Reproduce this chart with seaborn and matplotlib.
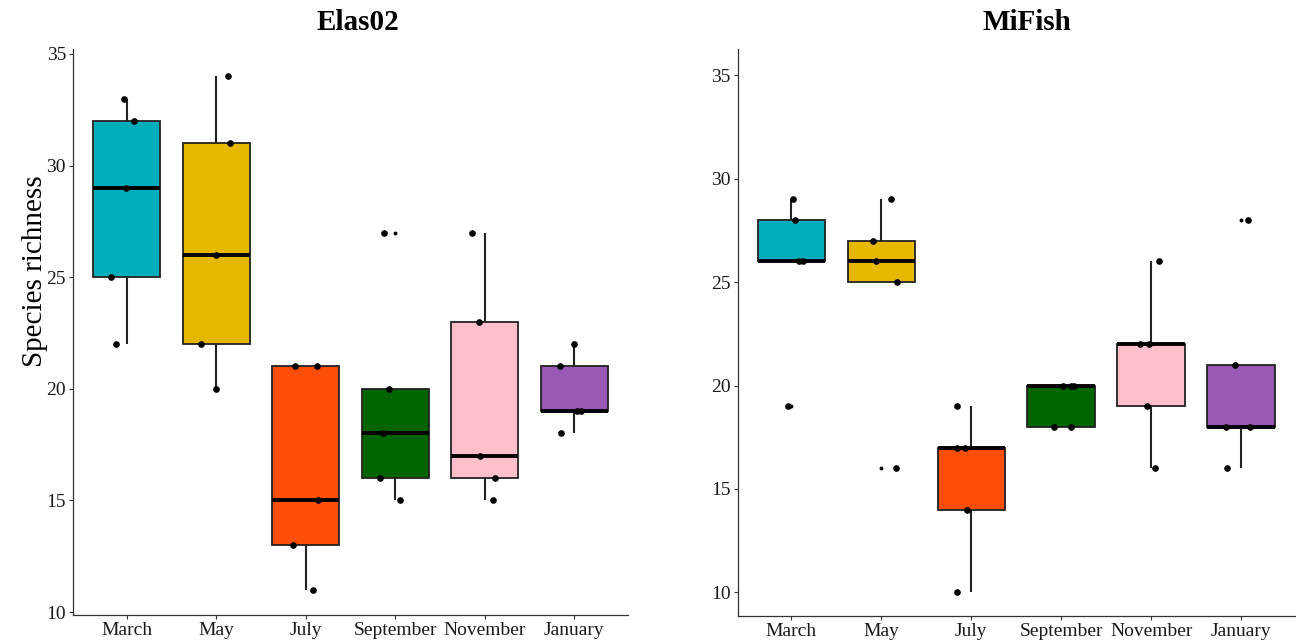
import numpy as np
import pandas as pd
import matplotlib
matplotlib.use("Agg")
import matplotlib.pyplot as plt
import seaborn as sns

months = ["March", "May", "July", "September", "November", "January"]
colors = ["#00AEBB", "#E7B800", "#FC4E07", "#006400", "#FFC0CB", "#9B59B6"]

# species richness per sample, grouped by sampling month
elas02 = {
    "March":     [22, 25, 29, 32, 33],
    "May":       [20, 22, 26, 31, 34],
    "July":      [11, 13, 15, 21, 21],
    "September": [15, 16, 18, 20, 27],
    "November":  [15, 16, 17, 23, 27],
    "January":   [18, 19, 19, 21, 22],
}
mifish = {
    "March":     [19, 26, 26, 28, 29],
    "May":       [16, 25, 26, 27, 29],
    "July":      [10, 14, 17, 17, 19],
    "September": [18, 18, 20, 20, 20],
    "November":  [16, 19, 22, 22, 26],
    "January":   [16, 18, 18, 21, 28],
}
y_ticks = [10, 15, 20, 25, 30, 35]


def to_frame(d):
    rows = [(m, v) for m in months for v in d[m]]
    return pd.DataFrame(rows, columns=["month", "richness"])


sns.set_theme(style="white")
plt.rcParams["font.family"] = ["Liberation Serif", "DejaVu Serif"]

W, H = 1296, 642
fig = plt.figure(figsize=(W / 100, H / 100), dpi=100)


def px_axes(x0, x1, y0, y1):
    return fig.add_axes([x0 / W, 1 - y1 / H, (x1 - x0) / W, (y1 - y0) / H])


ax1 = px_axes(73, 628, 49, 615)
ax2 = px_axes(737.5, 1295, 49, 616)

np.random.seed(11)
for ax, data, ylim, title, tx in [
    (ax1, elas02, (9.87, 35.22), "Elas02", 358),
    (ax2, mifish, (8.85, 36.28), "MiFish", 1027),
]:
    df = to_frame(data)
    sns.boxplot(
        data=df, x="month", y="richness", hue="month", order=months,
        hue_order=months, palette=colors, saturation=1, legend=False,
        width=0.75, showcaps=False, whis=1.5, ax=ax,
        boxprops=dict(edgecolor="#222222", linewidth=1.3),
        whiskerprops=dict(color="#222222", linewidth=1.5),
        medianprops=dict(color="black", linewidth=2.8),
        flierprops=dict(marker="o", markersize=2.8, markerfacecolor="black",
                        markeredgecolor="black", markeredgewidth=0),
    )
    sns.stripplot(
        data=df, x="month", y="richness", order=months, color="black",
        size=4.8, jitter=0.18, linewidth=0, ax=ax,
    )
    ax.set_xlim(-0.6, 5.6)
    ax.set_ylim(*ylim)
    ax.set_yticks(y_ticks)
    ax.set_xlabel("")
    ax.set_ylabel("")
    for s in ["top", "right"]:
        ax.spines[s].set_visible(False)
    for s in ["left", "bottom"]:
        ax.spines[s].set_color("#333333")
        ax.spines[s].set_linewidth(0.9)
    ax.tick_params(axis="both", which="major", length=3, width=0.8,
                   color="#333333", labelsize=14, labelcolor="#1a1a1a",
                   pad=2, left=True, bottom=True)
    fig.text(tx / W, 1 - 23 / H, title, ha="center", va="center",
             fontsize=21, fontweight="bold", color="black")

fig.text(35 / W, 1 - 271 / H, "Species richness", rotation=90,
         ha="center", va="center", fontsize=21, color="black")

fig.savefig("out.png", dpi=100, facecolor="white")
